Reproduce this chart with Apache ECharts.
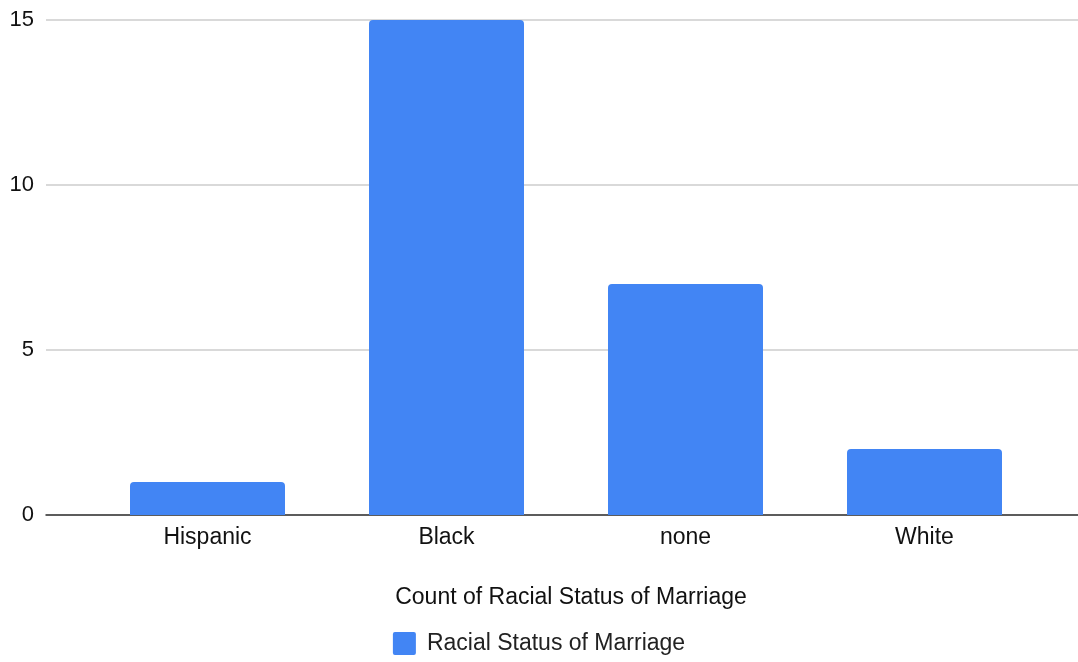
<!DOCTYPE html>
<html>
<head>
<meta charset="utf-8">
<script src="https://cdn.jsdelivr.net/npm/echarts@6/dist/echarts.min.js"></script>
<style>
  html, body { margin: 0; padding: 0; background: #fff; }
  #chart { width: 1078px; height: 662px; }
</style>
</head>
<body>
<div id="chart"></div>
<script>
// Count of marriages by racial status
const categories = ['Hispanic', 'Black', 'none', 'White'];
const counts = [1, 15, 7, 2];
const seriesName = 'Racial Status of Marriage';
const axisTitle = 'Count of Racial Status of Marriage';

const FONT = '"Liberation Sans", Arial, sans-serif';
const FS = 23;
const chart = echarts.init(document.getElementById('chart'));

chart.setOption({
  animation: false,
  textStyle: { fontFamily: FONT },
  // grid 0 carries the full-width gridlines and baseline, grid 1 the bars
  grid: [
    { left: 46, right: 0, top: 20, bottom: 147 },
    { left: 88, right: 34, top: 20, bottom: 147 }
  ],
  title: {
    text: axisTitle,
    left: 566,
    textAlign: 'center',
    top: 581,
    textStyle: { fontFamily: FONT, fontSize: FS, fontWeight: 'normal', color: '#111' }
  },
  legend: {
    data: [seriesName],
    left: 'center',
    top: 627,
    itemWidth: 23,
    itemHeight: 23,
    itemGap: 10,
    icon: 'path://M2,0H21A2,2 0 0 1 23,2V21A2,2 0 0 1 21,23H2A2,2 0 0 1 0,21V2A2,2 0 0 1 2,0Z',
    textStyle: { fontFamily: FONT, fontSize: FS, color: '#222', padding: [0, 0, 0, 6] }
  },
  xAxis: [
    {
      gridIndex: 0, type: 'category', data: categories,
      axisLine: { show: true, lineStyle: { color: '#333', width: 1.5 } },
      axisTick: { show: false },
      axisLabel: { show: false },
      splitLine: { show: false }
    },
    {
      gridIndex: 1, type: 'category', data: categories,
      axisLine: { show: false },
      axisTick: { show: false },
      axisLabel: { fontFamily: FONT, fontSize: FS, color: '#111', margin: 11 }
    }
  ],
  yAxis: [
    {
      gridIndex: 0, type: 'value', min: 0, max: 15, interval: 5,
      axisLine: { show: false },
      axisTick: { show: false },
      axisLabel: { fontFamily: FONT, fontSize: 22, color: '#111', margin: 12 },
      splitLine: { lineStyle: { color: '#cccccc', width: 1.5 } }
    },
    {
      gridIndex: 1, type: 'value', min: 0, max: 15, interval: 5,
      show: false,
      splitLine: { show: false }
    }
  ],
  series: [
    {
      name: seriesName,
      type: 'bar',
      xAxisIndex: 1,
      yAxisIndex: 1,
      data: counts,
      barWidth: 155,
      itemStyle: { color: '#4285f4', borderRadius: [4, 4, 0, 0] },
      z: 1
    }
  ]
});
</script>
</body>
</html>
